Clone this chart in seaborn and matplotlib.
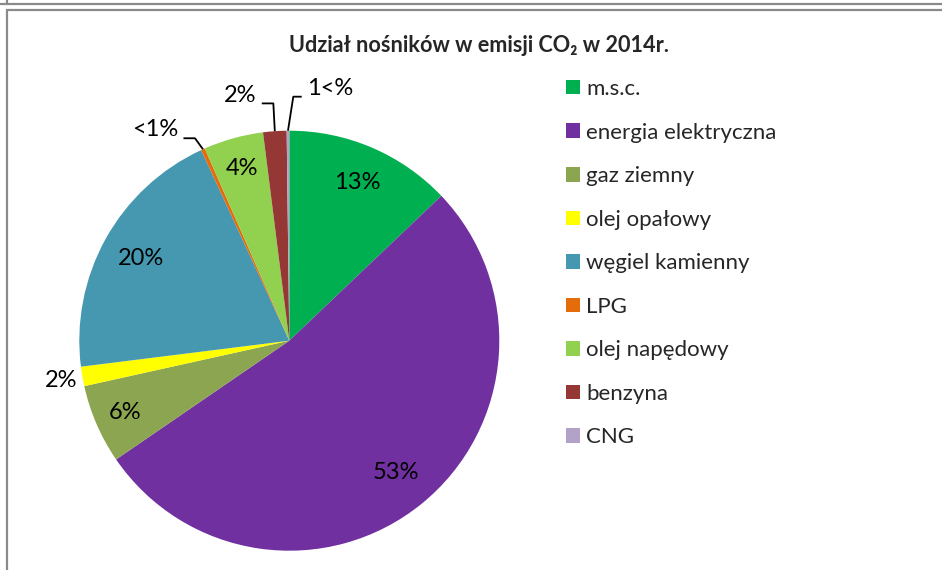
import numpy as np
import pandas as pd
import matplotlib

matplotlib.use('Agg')

import matplotlib.pyplot as plt
import seaborn as sns
from matplotlib.patches import Patch
from matplotlib.lines import Line2D

# data (shares in %)
categories = ["m.s.c.", "energia elektryczna", "gaz ziemny", "olej opałowy",
              "węgiel kamienny", "LPG", "olej napędowy", "benzyna", "CNG"]
shares = [12.9, 52.6, 6.1, 1.5, 20.1, 0.3, 4.6, 1.8, 0.2]
pct_labels = ["13%", "53%", "6%", "2%", "20%", "<1%", "4%", "2%", "1<%"]
title = "Udział nośników w emisji CO₂ w 2014r."

palette = ["#00B050", "#7030A0", "#8BA550", "#FFFF00", "#4598B0",
           "#E46C0A", "#92D050", "#953735", "#B3A2C7"]

df = pd.DataFrame({"nosnik": categories, "udzial": shares, "etykieta": pct_labels})

sns.set_theme(style="white")
plt.rcParams['font.family'] = ['Lato', 'DejaVu Sans']

W, H = 942, 570
fig = plt.figure(figsize=(W / 100, H / 100), dpi=100)

# pie placement in pixels
R_PX = 210
CX, CY = 289.3, 340.7
ax = fig.add_axes([(CX - R_PX) / W, (H - CY - R_PX) / H, 2 * R_PX / W, 2 * R_PX / H])
wedges, _ = ax.pie(df["udzial"], colors=palette, startangle=90, counterclock=False,
                   wedgeprops=dict(linewidth=0), radius=1)
ax.set_xlim(-1, 1)
ax.set_ylim(-1, 1)
ax.axis('off')

# label placement: radius for labels drawn in/next to the slice
label_r = {0: 0.82, 1: 0.81, 2: 0.855, 3: 1.105, 4: 0.81, 6: 0.85}
# labels with leader lines: text centre, elbow, line end (pie radius units)
leaders = {
    5: ((-0.64, 1.005), (-0.449, 0.964), (-0.504, 0.964)),
    7: ((-0.235, 1.17), (-0.076, 1.13), (-0.131, 1.13)),
    8: ((0.194, 1.20), (0.019, 1.162), (0.059, 1.162)),
}

lab_font = dict(fontsize=17, color="black")
for i, w in enumerate(wedges):
    mid = np.deg2rad((w.theta1 + w.theta2) / 2)
    txt = df["etykieta"][i]
    if i in label_r:
        r = label_r[i]
        ax.text(r * np.cos(mid), r * np.sin(mid), txt, ha="center", va="center", **lab_font)
    else:
        (tx, ty), (ex, ey), (lx, ly) = leaders[i]
        ax.text(tx, ty, txt, ha="center", va="center", **lab_font)
        ax.plot([lx, ex, np.cos(mid)], [ly, ey, np.sin(mid)], color="black",
                lw=1.3, clip_on=False, solid_capstyle="butt")

fig.text(479 / W, 1 - 45 / H, title, ha="center", va="center",
         fontsize=15.6, fontweight="bold")

handles = [Patch(facecolor=c, edgecolor="none") for c in palette]
fig.legend(handles, categories, loc="upper left", bbox_to_anchor=(566 / W, 1 - 79 / H),
           frameon=False, fontsize=16, handlelength=0.63, handleheight=0.63,
           handletextpad=0.27, labelspacing=1.06, borderaxespad=0, borderpad=0)

# chart frame lines
gray = "#8A8A8A"
fig.add_artist(Line2D([0, 1], [1 - 4 / H, 1 - 4 / H], color=gray, lw=1.6))
fig.add_artist(Line2D([7 / W, 7 / W], [1, 1 - 4 / H], color=gray, lw=1.6))
fig.add_artist(Line2D([7 / W, 1], [1 - 10 / H, 1 - 10 / H], color=gray, lw=1.6))
fig.add_artist(Line2D([7 / W, 7 / W], [0, 1 - 10 / H], color=gray, lw=1.6))

fig.savefig("out.png", dpi=100)
